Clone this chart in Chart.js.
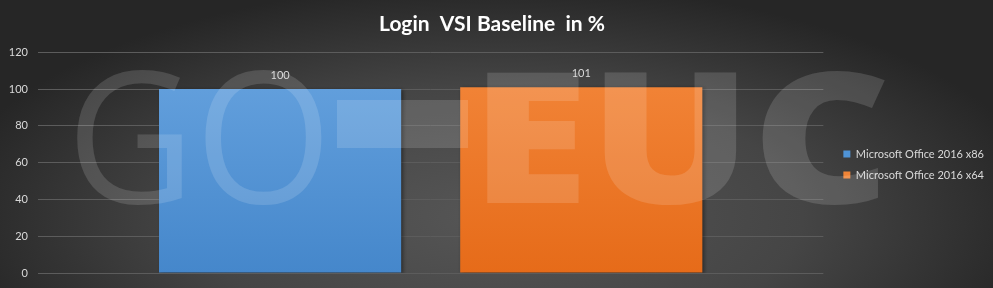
<!DOCTYPE html>
<html>
<head>
<meta charset="utf-8">
<script src="https://cdn.jsdelivr.net/npm/chart.js@4/dist/chart.umd.min.js"></script>
<style>
  html, body { margin: 0; padding: 0; background: #333; }
  #wrap { width: 993px; height: 288px; position: relative; }
</style>
</head>
<body>
<div id="wrap"><canvas id="chart"></canvas></div>
<script>
'use strict';

// data
const categories = [''];
const seriesNames = ['Microsoft Office 2016 x86', 'Microsoft Office 2016 x64'];
const x86Values = [100];
const x64Values = [101];
const yTicks = [0, 20, 40, 60, 80, 100, 120];
const chartTitle = 'Login  VSI Baseline  in %';
const watermark = ['GO', 'EUC'];

const FONT = 'Lato, "Open Sans", sans-serif';

function barGradient(top, bottom) {
    return function (context) {
        let area = context.chart.chartArea;
        if (!area) return bottom;
        let g = context.chart.ctx.createLinearGradient(0, area.top, 0, area.bottom);
        g.addColorStop(0, top);
        g.addColorStop(1, bottom);
        return g;
    };
}

// dark radial background behind everything
const backgroundPlugin = {
    id: 'bg',
    beforeDraw(chart) {
        let ctx = chart.ctx;
        let w = chart.width, h = chart.height;
        ctx.save();
        ctx.fillStyle = '#262626';
        ctx.fillRect(0, 0, w, h);
        ctx.translate(w / 2, h * 0.75);
        ctx.scale(1, 0.42);
        let g = ctx.createRadialGradient(0, 0, 0, 0, 0, w * 0.56);
        g.addColorStop(0, '#565656');
        g.addColorStop(0.55, '#454545');
        g.addColorStop(1, '#262626');
        ctx.fillStyle = g;
        ctx.fillRect(-w, -h * 4, w * 2, h * 8);
        ctx.restore();
    }
};

// nudge the legend to where the reference has it
const legendShift = {
    id: 'legendShift',
    afterLayout(chart) {
        let lg = chart.legend;
        lg.left += 10; lg.right += 10;
        lg.top += 28; lg.bottom += 28;
    }
};

function fitText(ctx, text, font, x0, x1, top, bottom) {
    ctx.save();
    ctx.font = font;
    let m = ctx.measureText(text);
    let tw = m.actualBoundingBoxLeft + m.actualBoundingBoxRight;
    let th = m.actualBoundingBoxAscent;
    let sx = (x1 - x0) / tw;
    let sy = (bottom - top) / th;
    ctx.translate(x0, bottom);
    ctx.scale(sx, sy);
    ctx.textBaseline = 'alphabetic';
    ctx.textAlign = 'left';
    ctx.fillText(text, m.actualBoundingBoxLeft, 0);
    ctx.restore();
}

// bar shadow, then watermark on top of the bars, then the value labels
const overlayPlugin = {
    id: 'overlay',
    beforeDatasetsDraw(chart) {
        let ctx = chart.ctx;
        ctx.save();
        ctx.shadowColor = 'rgba(0,0,0,0.45)';
        ctx.shadowBlur = 4;
        ctx.shadowOffsetX = 2;
        ctx.shadowOffsetY = 1;
    },
    afterDatasetsDraw(chart) {
        let ctx = chart.ctx;
        ctx.restore();

        ctx.save();
        ctx.fillStyle = 'rgba(255,255,255,0.14)';
        fitText(ctx, watermark[0], '400 200px "Open Sans", sans-serif', 77, 322, 70, 203);
        ctx.fillRect(337, 100, 131, 48);
        fitText(ctx, watermark[1], '800 200px "Open Sans", sans-serif', 487, 885, 70, 203);
        ctx.restore();

        ctx.save();
        ctx.font = '11px ' + FONT;
        ctx.fillStyle = '#d9d9d9';
        ctx.textAlign = 'center';
        ctx.textBaseline = 'middle';
        chart.data.datasets.forEach((ds, i) => {
            chart.getDatasetMeta(i).data.forEach((bar, j) => {
                ctx.fillText(String(ds.data[j]), bar.x, bar.y - 14);
            });
        });
        ctx.restore();
    }
};

const chartConfig = {
    type: 'bar',
    data: {
        labels: categories,
        datasets: [{
            label: seriesNames[0],
            data: x86Values,
            backgroundColor: barGradient('#67a3df', '#4587cb'),
            legendColor: '#4f93d6',
            borderWidth: 0,
            categoryPercentage: 0.767,
            barPercentage: 0.804,
        },
        {
            label: seriesNames[1],
            data: x64Values,
            backgroundColor: barGradient('#f3873b', '#e66b19'),
            legendColor: '#f08436',
            borderWidth: 0,
            categoryPercentage: 0.767,
            barPercentage: 0.804,
        }]
    },
    options: {
        responsive: false,
        animation: false,
        layout: { padding: { left: 0, right: 9, top: 0, bottom: 15 } },
        plugins: {
            title: {
                display: true,
                text: chartTitle,
                color: '#ffffff',
                font: { family: FONT, size: 21, weight: 'bold' },
                padding: { top: 12, bottom: 15 },
            },
            legend: {
                position: 'right',
                labels: {
                    color: '#d9d9d9',
                    font: { family: FONT, size: 11 },
                    boxWidth: 7,
                    boxHeight: 7,
                    padding: 10,
                    generateLabels(chart) {
                        return chart.data.datasets.map((ds, i) => ({
                            text: ds.label,
                            fillStyle: ds.legendColor,
                            strokeStyle: ds.legendColor,
                            lineWidth: 0,
                            fontColor: '#d9d9d9',
                            datasetIndex: i,
                        }));
                    }
                }
            },
            tooltip: { enabled: false },
        },
        scales: {
            x: {
                display: false,
            },
            y: {
                min: 0,
                max: 120,
                afterBuildTicks(axis) {
                    axis.ticks = yTicks.map(v => ({ value: v }));
                },
                afterFit(axis) {
                    axis.width = 38;
                    axis.paddingTop = 0;
                    axis.paddingBottom = 0;
                },
                ticks: {
                    color: '#d9d9d9',
                    font: { family: FONT, size: 11 },
                    padding: 10,
                },
                grid: {
                    color: '#5c5c5c',
                    lineWidth: 1,
                    drawTicks: false,
                },
                border: { display: false },
            }
        }
    },
    plugins: [backgroundPlugin, legendShift, overlayPlugin]
};

let canvasElem = document.getElementById('chart');
canvasElem.width = 993;
canvasElem.height = 288;
new Chart(canvasElem, chartConfig);
</script>
</body>
</html>
